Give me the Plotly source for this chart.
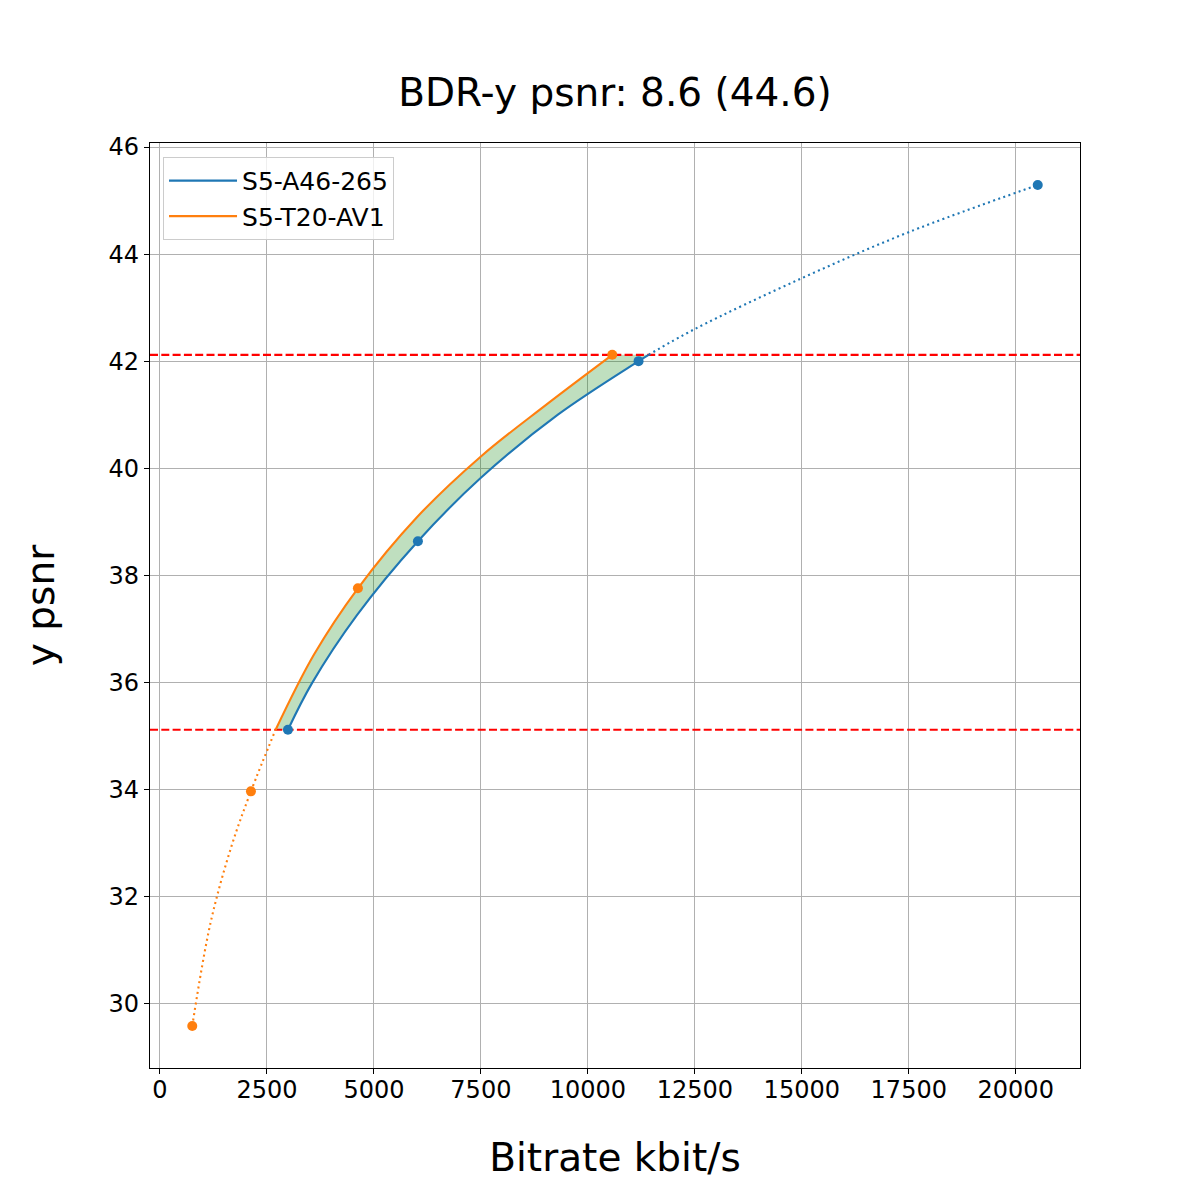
import plotly.graph_objects as go

# ---- data ----
series_names = ["S5-A46-265", "S5-T20-AV1"]
blue_rate = [2991, 6028, 11185, 20514]
blue_psnr = [35.114, 38.636, 42.0, 45.29]
orange_rate = [755, 2126, 4626, 10570]
orange_psnr = [29.58, 33.963, 37.757, 42.118]

# points (overlap part and extensions)
blue_curve_rate = [2991, 3550, 4600, 6028, 7500, 9300, 11185, 11420]
blue_curve_psnr = [35.114, 35.98, 37.25, 38.636, 39.82, 41.0, 42.0, 42.118]
blue_ext_rate = [11420, 12500, 15000, 17500, 20514]
blue_ext_psnr = [42.118, 42.60, 43.55, 44.41, 45.29]
orange_curve_rate = [2703, 3600, 4626, 6000, 7500, 9000, 10570]
orange_curve_psnr = [35.114, 36.52, 37.757, 39.08, 40.22, 41.17, 42.118]
orange_ext_rate = [755, 1180, 1668, 2126, 2703]
orange_ext_psnr = [29.58, 31.5, 32.93, 33.963, 35.114]

x_ticks = [0, 2500, 5000, 7500, 10000, 12500, 15000, 17500, 20000]
y_ticks = [30, 32, 34, 36, 38, 40, 42, 44, 46]

title_text = "BDR-y psnr: 8.6 (44.6)"
x_label = "Bitrate kbit/s"
y_label = "y psnr"

BLUE = "#1f77b4"
ORANGE = "#ff7f0e"
FONT = "DejaVu Sans"
SMOOTH = 1.0

low_line = max(min(blue_psnr), min(orange_psnr))
high_line = min(max(blue_psnr), max(orange_psnr))

all_x = blue_rate + orange_rate
all_y = blue_psnr + orange_psnr
xpad = 0.05 * (max(all_x) - min(all_x))
ypad = 0.05 * (max(all_y) - min(all_y))
x_range = [min(all_x) - xpad, max(all_x) + xpad]
y_range = [min(all_y) - ypad, max(all_y) + ypad]

fig = go.Figure()

# fill between overlapping parts
fig.add_trace(go.Scatter(x=blue_curve_rate, y=blue_curve_psnr, mode="lines",
                         line=dict(width=0, shape="spline", smoothing=SMOOTH),
                         showlegend=False, hoverinfo="skip"))
fig.add_trace(go.Scatter(x=orange_curve_rate, y=orange_curve_psnr, mode="lines",
                         line=dict(width=0, shape="spline", smoothing=SMOOTH), fill="tonexty",
                         fillcolor="rgba(0,128,0,0.25)", showlegend=False,
                         hoverinfo="skip"))

# red dashed limits across the whole axis
for yv in (low_line, high_line):
    fig.add_trace(go.Scatter(x=x_range, y=[yv, yv], mode="lines",
                             line=dict(color="#ff0000", width=2.1, dash="8px,3.3px"),
                             showlegend=False, hoverinfo="skip"))

# dotted extensions
fig.add_trace(go.Scatter(x=blue_ext_rate, y=blue_ext_psnr, mode="lines",
                         line=dict(color=BLUE, width=2.1, shape="spline", smoothing=SMOOTH,
                                   dash="2px,3.4px"),
                         showlegend=False))
fig.add_trace(go.Scatter(x=orange_ext_rate, y=orange_ext_psnr, mode="lines",
                         line=dict(color=ORANGE, width=2.1, shape="spline", smoothing=SMOOTH,
                                   dash="2px,3.4px"),
                         showlegend=False))

# solid overlap curves
fig.add_trace(go.Scatter(x=blue_curve_rate, y=blue_curve_psnr, mode="lines",
                         name=series_names[0],
                         line=dict(color=BLUE, width=2.1, shape="spline", smoothing=SMOOTH)))
fig.add_trace(go.Scatter(x=orange_curve_rate, y=orange_curve_psnr, mode="lines",
                         name=series_names[1],
                         line=dict(color=ORANGE, width=2.1, shape="spline", smoothing=SMOOTH)))

# measured points
fig.add_trace(go.Scatter(x=blue_rate, y=blue_psnr, mode="markers",
                         marker=dict(color=BLUE, size=10), showlegend=False))
fig.add_trace(go.Scatter(x=orange_rate, y=orange_psnr, mode="markers",
                         marker=dict(color=ORANGE, size=10), showlegend=False))

axis_common = dict(
    showgrid=True, gridcolor="#b0b0b0", gridwidth=1.1,
    showline=True, linecolor="black", linewidth=1.1, mirror=True,
    ticks="outside", ticklen=5, tickwidth=1.1, tickcolor="black",
    tickfont=dict(family=FONT, size=24, color="black"),
    zeroline=False,
)

W = H = 1192  # page body adds an 8px offset
fig.update_layout(
    width=W, height=H,
    paper_bgcolor="white", plot_bgcolor="white",
    margin=dict(l=142, r=120, t=135, b=132),
    font=dict(family=FONT, color="black"),
    title=dict(text=title_text, x=0.5, xref="paper", xanchor="center",
               y=1 - 84 / H, yref="container", yanchor="middle",
               font=dict(family=FONT, size=39, color="black")),
    xaxis=dict(range=x_range, tickmode="array", tickvals=x_ticks,
               ticktext=[str(v) for v in x_ticks], ticklabelstandoff=-5,
               title=dict(text=x_label, font=dict(family=FONT, size=39), standoff=40),
               **axis_common),
    yaxis=dict(range=y_range, tickmode="array", tickvals=y_ticks,
               ticktext=[str(v) for v in y_ticks],
               title=dict(text=y_label, font=dict(family=FONT, size=39), standoff=41),
               **axis_common),
    legend=dict(x=0.014, y=0.985, xanchor="left", yanchor="top", traceorder="normal",
                bgcolor="rgba(255,255,255,0.8)", bordercolor="#cccccc", borderwidth=1,
                itemwidth=68,
                font=dict(family=FONT, size=25, color="black")),
    showlegend=True,
)

fig.write_html("out.html")
